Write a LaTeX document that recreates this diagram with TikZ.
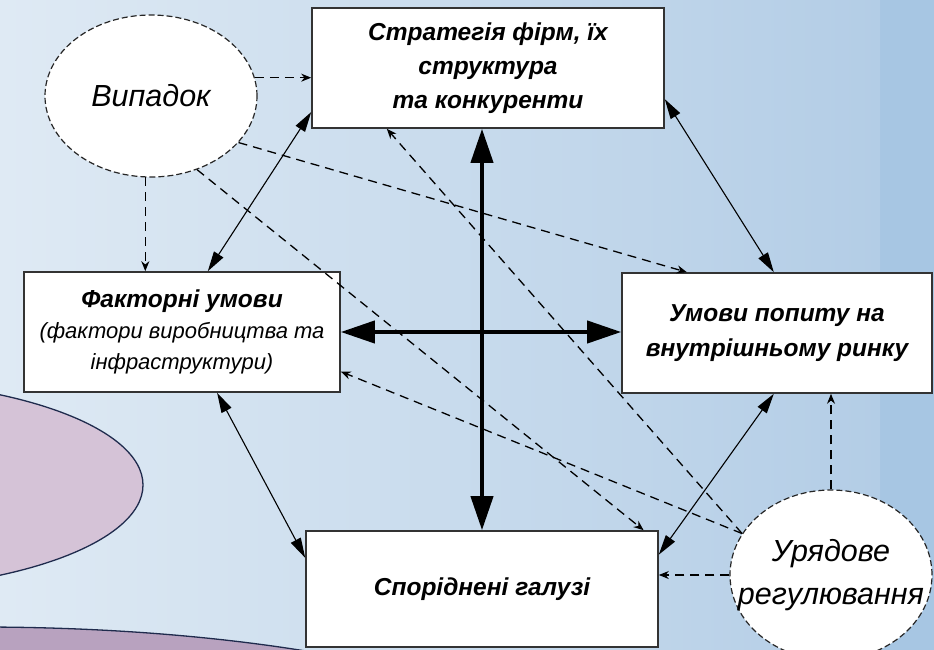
\documentclass[tikz,border=0pt]{standalone}
\usepackage{fontspec}
\setmainfont{Liberation Sans}
\usetikzlibrary{arrows.meta,shapes.geometric}
\definecolor{bgleft}{HTML}{DFEAF4}
\definecolor{bgright}{HTML}{B3CDE6}
\definecolor{bgstrip}{HTML}{A7C6E3}
\definecolor{lilac}{HTML}{D5C3D7}
\definecolor{lilacdark}{HTML}{B8A2BF}
\definecolor{navy}{HTML}{1F2B4D}

\begin{document}
\begin{tikzpicture}[x=1pt,y=-1pt,
	box/.style={draw=black!80,line width=1.6pt,fill=white,inner sep=0pt,align=center,font=\fontsize{24.5}{34}\selectfont\bfseries\itshape},
	event/.style={ellipse,draw=black!85,line width=1.2pt,dash pattern=on 6pt off 3pt,fill=white,inner xsep=-36pt,inner ysep=-20pt,align=center,font=\fontsize{30.5}{43}\selectfont\itshape},
	core/.style={line width=4pt,{Triangle[length=34pt,width=22pt]}-{Triangle[length=34pt,width=22pt]}},
	link/.style={line width=1.1pt,{Triangle[length=20pt,width=11pt]}-{Triangle[length=20pt,width=11pt]}},
	push/.style={line width=1.3pt,dash pattern=on 9pt off 6pt,-{Stealth[length=10pt,width=8pt]}}]
				\useasboundingbox (0,0) rectangle (934,650);
				\clip (0,0) rectangle (934,650);
				\fill[bgstrip] (0,0) rectangle (934,650);
				\shade[left color=bgleft,right color=bgright] (0,0) rectangle (880,650);
				\filldraw[fill=lilac,draw=navy,line width=1.3pt] (-150,485) ellipse (293 and 105);
				\filldraw[fill=lilacdark,draw=navy,line width=1.3pt] (-20,777) ellipse (600 and 150);
				\node[box,minimum width=352pt,minimum height=120pt] (strat) at (488,68) {Стратегія фірм, їх\\структура\\та конкуренти};
				\node[box,minimum width=316pt,minimum height=120pt,font=\fontsize{22}{31}\selectfont\itshape] (factor) at (182,332) {\textbf{\fontsize{24.5}{31}\selectfont Факторні умови}\\(фактори виробництва та\\інфраструктури)};
				\node[box,minimum width=310pt,minimum height=120pt,font=\fontsize{24.5}{35}\selectfont\bfseries\itshape] (demand) at (777,333) {Умови попиту на\\внутрішньому ринку};
				\node[box,minimum width=352pt,minimum height=116pt] (related) at (482,589) {Споріднені галузі};
				\node[event,minimum width=212pt,minimum height=162pt] (chance) at (151,96) {Випадок};
				\node[event,minimum width=202pt,minimum height=170pt] (govt) at (831,575) {Урядове\\регулювання};
				\draw[core] (strat.south -| related.north) -- (related.north);
				\draw[core] (factor.east) -- (factor.east -| demand.west);
				\draw[link] (strat.194) -- (factor.67);
				\draw[link] (strat.-10) -- (demand.93);
				\draw[link] (factor.-60) -- (related.170);
				\draw[link] (demand.-93) -- (related.11);
				\draw[push] (chance.10) -- (chance.10 -| strat.west);
				\draw[push] (chance.-94) -- (chance.-94 |- factor.north);
				\draw[push] (chance.-28) -- (demand.146);
				\draw[push] (chance.-58) -- (related.20);
				\draw[push] (govt.155) -- (strat.-149);
				\draw[push] (govt.155) -- (factor.-14);
				\draw[push] (govt.north) -- (govt.north |- demand.south);
				\draw[push] (govt.west) -- (govt.west -| related.east);
			\end{tikzpicture}
\end{document}
